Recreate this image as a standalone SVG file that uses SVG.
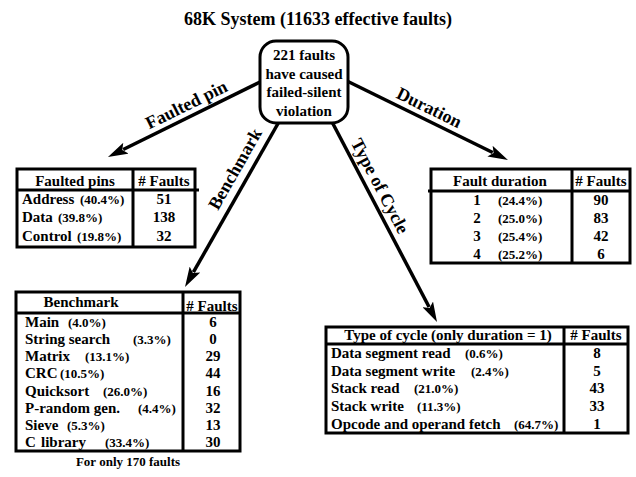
<svg xmlns="http://www.w3.org/2000/svg" width="636" height="477" viewBox="0 0 636 477">
<style>
text{font-family:"Liberation Serif","Times New Roman",serif;font-weight:bold;fill:#000}
.t{font-size:15px}
.p{font-size:13px}
.lbl{font-size:18px;text-anchor:middle}
.ttl{font-size:18px;text-anchor:middle}
.c{text-anchor:middle}
.box{fill:#fff;stroke:#000;stroke-width:3}
.ln{stroke:#000;stroke-width:3;fill:none}
.conn{stroke:#000;stroke-width:3.5;fill:none;marker-end:url(#ah)}
</style>
<defs>
<marker id="ah" markerUnits="userSpaceOnUse" markerWidth="20" markerHeight="12" refX="3" refY="6" orient="auto" viewBox="0 0 20 12"><path d="M0,0 L20,6 L0,12 L4,6z" fill="#000"/></marker>
</defs>
<text class="ttl" x="318" y="25">68K System (11633 effective faults)</text>
<g id="connectors">
<path class="conn" d="M262,81 L123.2,149.5"/>
<path class="conn" d="M347,81 L492.7,152.5"/>
<path class="conn" d="M280,120 L193.4,272.2"/>
<path class="conn" d="M331,120 L429.1,307"/>
<text class="lbl" transform="translate(189,110) rotate(-26.2)">Faulted pin</text>
<text class="lbl" transform="translate(426.6,112.9) rotate(26.1)">Duration</text>
<text class="lbl" transform="translate(240.2,172) rotate(-60.3)">Benchmark</text>
<text class="lbl" transform="translate(374.7,188.8) rotate(62.3)">Type of Cycle</text>
</g>
<g id="root">
<rect class="box" x="260" y="41" width="88" height="82" rx="16"/>
<text class="t c" x="304" y="60">221 faults</text>
<text class="t c" x="304" y="79">have caused</text>
<text class="t c" x="304" y="97">failed-silent</text>
<text class="t c" x="304" y="116">violation</text>
</g>
<g id="faulted-pins">
<rect class="ln" x="17" y="169" width="178" height="78"/>
<path class="ln" d="M133,169 V247 M17,190 H199"/>
<text class="t c" x="75" y="186">Faulted pins</text>
<text class="t c" x="164" y="186"># Faults</text>
<text class="t" x="22" y="204">Address <tspan class="p" x="80">(40.4%)</tspan></text>
<text class="t" x="22" y="222">Data <tspan class="p" x="58">(39.8%)</tspan></text>
<text class="t" x="22" y="241">Control <tspan class="p" x="77">(19.8%)</tspan></text>
<text class="t c" x="164" y="204">51</text>
<text class="t c" x="164" y="222">138</text>
<text class="t c" x="164" y="241">32</text>
</g>
<g id="fault-duration">
<rect class="ln" x="431" y="169" width="199" height="94"/>
<path class="ln" d="M572,169 V263 M428,191 H630"/>
<text class="t c" x="500" y="186">Fault duration</text>
<text class="t c" x="601" y="186"># Faults</text>
<text class="t c" x="477" y="205">1</text><text class="p" x="498" y="205">(24.4%)</text><text class="t c" x="601" y="205">90</text>
<text class="t c" x="477" y="223">2</text><text class="p" x="498" y="223">(25.0%)</text><text class="t c" x="601" y="223">83</text>
<text class="t c" x="477" y="241">3</text><text class="p" x="498" y="241">(25.4%)</text><text class="t c" x="601" y="241">42</text>
<text class="t c" x="477" y="259">4</text><text class="p" x="498" y="259">(25.2%)</text><text class="t c" x="601" y="259">6</text>
</g>
<g id="benchmark">
<rect class="ln" x="16" y="292" width="224" height="159"/>
<path class="ln" d="M183,292 V451 M16,313 H240"/>
<text class="t c" x="81" y="307">Benchmark</text>
<text class="t c" x="212" y="311"># Faults</text>
<text class="t" x="25" y="327">Main <tspan class="p" x="68">(4.0%)</tspan></text>
<text class="t" x="25" y="344">String search <tspan class="p" x="133">(3.3%)</tspan></text>
<text class="t" x="25" y="361">Matrix <tspan class="p" x="85">(13.1%)</tspan></text>
<text class="t" x="25" y="378">CRC <tspan class="p" x="60">(10.5%)</tspan></text>
<text class="t" x="25" y="396">Quicksort <tspan class="p" x="103">(26.0%)</tspan></text>
<text class="t" x="25" y="413">P-random gen. <tspan class="p" x="138">(4.4%)</tspan></text>
<text class="t" x="25" y="430">Sieve <tspan class="p" x="67">(5.3%)</tspan></text>
<text class="t" x="25" y="447">C <tspan x="41">library</tspan> <tspan class="p" x="105">(33.4%)</tspan></text>
<text class="t c" x="213" y="327">6</text>
<text class="t c" x="213" y="344">0</text>
<text class="t c" x="213" y="361">29</text>
<text class="t c" x="213" y="378">44</text>
<text class="t c" x="213" y="396">16</text>
<text class="t c" x="213" y="413">32</text>
<text class="t c" x="213" y="430">13</text>
<text class="t c" x="213" y="447">30</text>
<text class="p c" x="128" y="466">For only 170 faults</text>
</g>
<g id="cycle-type">
<rect class="ln" x="326" y="327" width="302" height="106"/>
<path class="ln" d="M564,327 V433 M326,344 H628"/>
<text class="t c" x="448" y="340">Type of cycle (only duration = 1)</text>
<text class="t c" x="596" y="340"># Faults</text>
<text class="t" x="331" y="358">Data segment read <tspan class="p" x="465">(0.6%)</tspan></text>
<text class="t" x="331" y="376">Data segment write <tspan class="p" x="471">(2.4%)</tspan></text>
<text class="t" x="331" y="393">Stack read <tspan class="p" x="414">(21.0%)</tspan></text>
<text class="t" x="331" y="411">Stack write <tspan class="p" x="417">(11.3%)</tspan></text>
<text class="t" x="331" y="429">Opcode and operand fetch <tspan class="p" x="514">(64.7%)</tspan></text>
<text class="t c" x="597" y="358">8</text>
<text class="t c" x="597" y="376">5</text>
<text class="t c" x="597" y="393">43</text>
<text class="t c" x="597" y="411">33</text>
<text class="t c" x="597" y="429">1</text>
</g>
</svg>
